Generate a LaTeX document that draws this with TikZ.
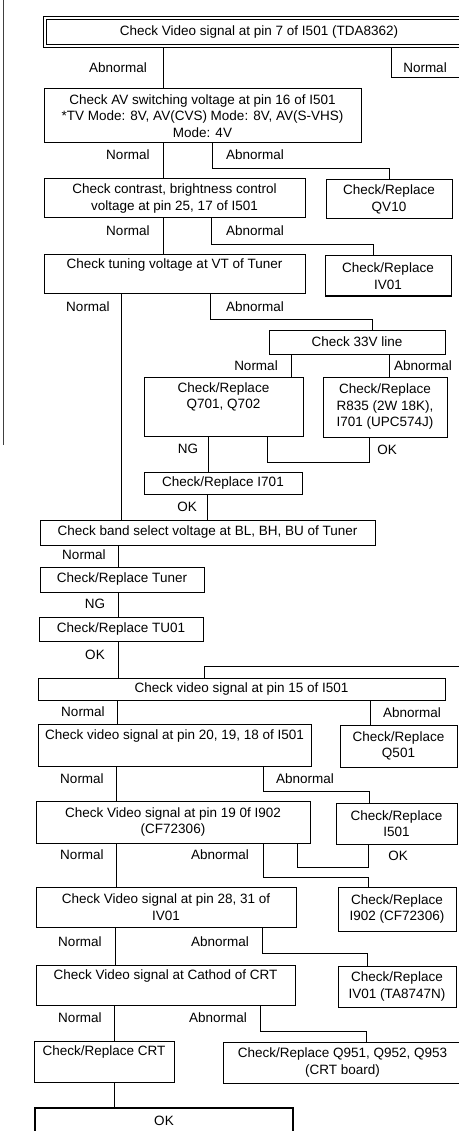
\documentclass[tikz,border=0pt]{standalone}
\usepackage{fontspec}
\setmainfont{Liberation Sans}
\newcommand\bxfont{\fontsize{13.5}{16.5}\selectfont}
\begin{document}
\begin{tikzpicture}[x=1pt,y=-1pt,
  box/.style={draw,line width=1pt,inner sep=0pt,align=center,font=\bxfont},
  sz/.style 2 args={minimum width=#1pt,minimum height=#2pt},
  lbl/.style={inner sep=0pt,font=\bxfont},
  conn/.style={line width=1pt}]
\useasboundingbox (0,0) rectangle (458,1131);
% left page edge line
\draw[line width=1pt,black!75] (3,0) -- (3,445);
% boxes
\node[box,sz={431}{31}] (b1) at (259,32.5) {Check Video signal at pin 7 of I501 (TDA8362)};
\draw[line width=1pt] ([shift={(3.5,3.5)}]b1.north west) rectangle ([shift={(-3.5,-3.5)}]b1.south east);
\node[box,sz={317}{54}] (b2) at (202.5,116) {Check AV switching voltage at pin 16 of I501\\*TV Mode: 8V, AV(CVS) Mode: 8V, AV(S-VHS)\\Mode: 4V};
\node[box,sz={261}{39}] (b3) at (174.5,198.5) {Check contrast, brightness control\\voltage at pin 25, 17 of I501};
\node[box,sz={126}{39}] (qv10) at (389,199.5) {Check/Replace\\QV10};
\node[box,sz={261}{39}] (b4) at (174.5,274.5) {Check tuning voltage at VT of Tuner\\\strut};
\node[box,sz={126}{40}] (iv01) at (388,276) {Check/Replace\\IV01};
\node[box,sz={176}{24}] (v33) at (357,342) {Check 33V line};
\node[box,sz={159}{59}] (q701) at (223.5,406.5) {Check/Replace\\Q701, Q702\\\strut};
\node[box,sz={124}{60}] (r835) at (385,407) {Check/Replace\\R835 (2W 18K),\\I701 (UPC574J)};
\node[box,sz={158}{22}] (i701) at (223,483) {Check/Replace I701};
\node[box,sz={335}{25}] (band) at (207.5,532.5) {Check band select voltage at BL, BH, BU of Tuner};
\node[box,sz={164}{25}] (tuner) at (122,579.5) {Check/Replace Tuner};
\node[box,sz={164}{24}] (tu01) at (121,629) {Check/Replace TU01};
\node[box,sz={407}{22}] (p15) at (241.5,689) {Check video signal at pin 15 of I501};
\node[box,sz={273}{42}] (p20) at (174.5,745) {Check video signal at pin 20, 19, 18 of I501\\\strut};
\node[box,sz={117}{42}] (q501) at (398.5,746) {Check/Replace\\Q501};
\node[box,sz={274}{42}] (p19) at (173,822) {Check Video signal at pin 19 0f I902\\(CF72306)};
\node[box,sz={121}{41}] (i501) at (396.5,823.5) {Check/Replace\\I501};
\node[box,sz={260}{40}] (p28) at (166,907) {Check Video signal at pin 28, 31 of\\IV01};
\node[box,sz={118}{44}] (i902) at (397,909) {Check/Replace\\I902 (CF72306)};
\node[box,sz={259}{40}] (cath) at (165.5,985) {Check Video signal at Cathod of CRT\\\strut};
\node[box,sz={118}{41}] (iv01ta) at (397,986.5) {Check/Replace\\IV01 (TA8747N)};
\node[box,sz={140}{41}] (crt) at (104,1061.5) {Check/Replace CRT\\\strut};
\node[box,sz={239}{41}] (q951) at (342.5,1062.5) {Check/Replace Q951, Q952, Q953\\(CRT board)};
\node[box,line width=2.5pt,sz={258}{26}] (ok) at (164,1121) {OK};
% free ends at the right edge
\coordinate (out1) at (462,78);
\coordinate (in2) at (462,666);
% connectors
\draw[conn] (b1.south -| 163,0) -- (b2.north -| 163,0);
\draw[conn] (b1.south -| 391,0) |- (out1);
\draw[conn] (b2.south -| 163,0) -- (b3.north -| 163,0);
\draw[conn] (b2.south -| 212,0) -- (212,169) -| (qv10.north);
\draw[conn] (b3.south -| 163,0) -- (b4.north -| 163,0);
\draw[conn] (b3.south -| 211,0) -- (211,245) -| (iv01.north -| 373,0);
\draw[conn] (b4.south -| 121,0) -- (band.north -| 121,0);
\draw[conn] (b4.south -| 210,0) -- (210,319) -| (v33.north -| 372,0);
\draw[conn] (v33.south -| 291,0) -- (q701.north -| 291,0);
\draw[conn] (v33.south -| 389,0) -- (r835.north -| 389,0);
\draw[conn] (q701.south -| 208,0) -- (i701.north -| 208,0);
\draw[conn] (q701.south -| 267,0) -- (267,462) -| (r835.south -| 369,0);
\draw[conn] (i701.south -| 207,0) -- (band.north -| 207,0);
\draw[conn] (band.south -| 118,0) -- (tuner.north -| 118,0);
\draw[conn] (tuner.south -| 118,0) -- (tu01.north -| 118,0);
\draw[conn] (tu01.south -| 118,0) -- (p15.north -| 118,0);
\draw[conn] (in2) -| (p15.north -| 204,0);
\draw[conn] (p15.south -| 117,0) -- (p20.north -| 117,0);
\draw[conn] (p15.south -| 370,0) -- (q501.north -| 370,0);
\draw[conn] (p20.south -| 116,0) -- (p19.north -| 116,0);
\draw[conn] (p20.south -| 263,0) -- (263,791) -| (i501.north -| 369,0);
\draw[conn] (p19.south -| 116,0) -- (p28.north -| 116,0);
\draw[conn] (p19.south -| 297,0) -- (297,867) -| (i501.south -| 368,0);
\draw[conn] (p19.south -| 263,0) -- (263,877) -| (i902.north -| 368,0);
\draw[conn] (p28.south -| 115,0) -- (cath.north -| 115,0);
\draw[conn] (p28.south -| 262,0) -- (262,953) -| (iv01ta.north -| 367,0);
\draw[conn] (cath.south -| 114,0) -- (crt.north -| 114,0);
\draw[conn] (cath.south -| 260,0) -- (260,1031) -| (q951.north -| 366,0);
\draw[conn] (crt.south -| 114,0) -- (ok.north -| 114,0);
% labels
\node[lbl] (l1) at (118,68) {Abnormal};
\node[lbl] (l2) at (425,68) {Normal};
\node[lbl] (l3) at (128,155) {Normal};
\node[lbl] (l4) at (255,155) {Abnormal};
\node[lbl] (l5) at (128,231) {Normal};
\node[lbl] (l6) at (255,231) {Abnormal};
\node[lbl] (l7) at (88,307) {Normal};
\node[lbl] (l8) at (255,307) {Abnormal};
\node[lbl] (l9) at (256,366) {Normal};
\node[lbl] (l10) at (423,366) {Abnormal};
\node[lbl] (l11) at (188,449) {NG};
\node[lbl] (l12) at (387,450) {OK};
\node[lbl] (l13) at (187,507) {OK};
\node[lbl] (l14) at (84,555) {Normal};
\node[lbl] (l15) at (95,604) {NG};
\node[lbl] (l16) at (95,655) {OK};
\node[lbl] (l17) at (83,712) {Normal};
\node[lbl] (l18) at (412,713) {Abnormal};
\node[lbl] (l19) at (82,779) {Normal};
\node[lbl] (l20) at (305,779) {Abnormal};
\node[lbl] (l21) at (82,855) {Normal};
\node[lbl] (l22) at (220,855) {Abnormal};
\node[lbl] (l23) at (398,856) {OK};
\node[lbl] (l24) at (80,942) {Normal};
\node[lbl] (l25) at (220,942) {Abnormal};
\node[lbl] (l26) at (80,1018) {Normal};
\node[lbl] (l27) at (218,1018) {Abnormal};
\end{tikzpicture}
\end{document}
